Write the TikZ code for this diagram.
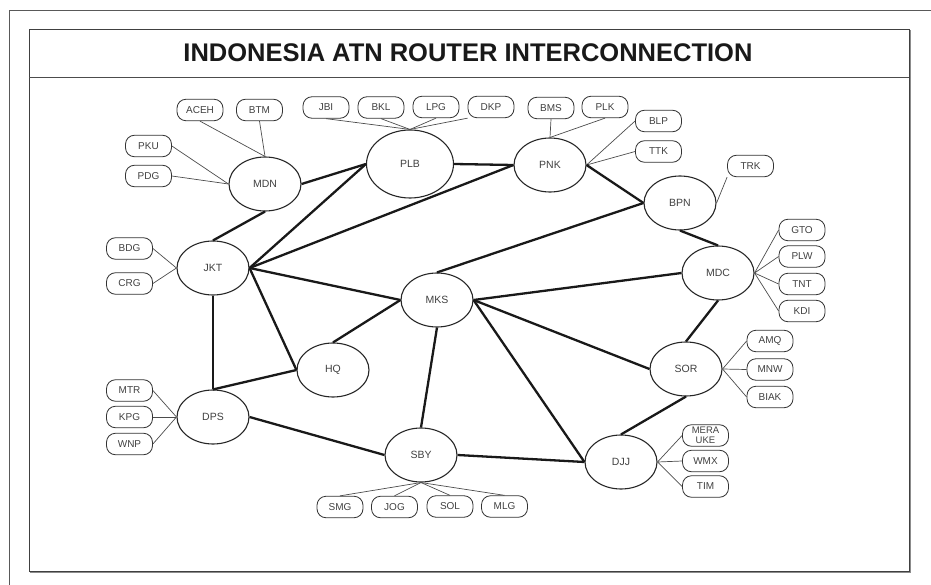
\documentclass[tikz,border=0pt]{standalone}
\usepackage{fontspec}
\setmainfont{Liberation Sans}
\usetikzlibrary{shapes.geometric}
\begin{document}
\begin{tikzpicture}[x=1pt,y=-1pt,
  router/.style={draw=black!85,line width=1.1pt,ellipse,minimum width=72pt,minimum height=54pt,inner sep=0pt,
                 font=\fontsize{10.5}{11}\selectfont,text=black!75},
  bigrouter/.style={router,minimum width=87pt,minimum height=68pt},
  site/.style={draw=black!80,line width=0.8pt,rounded corners=9pt,minimum width=46pt,minimum height=21.5pt,inner sep=0pt,
               font=\fontsize{10}{10}\selectfont,text=black!75,align=center},
  trunk/.style={line width=2.3pt,black!90},
  spur/.style={line width=0.7pt,black!70}]
\useasboundingbox (0,0) rectangle (931,585);

% page frame and title panel
\draw[black!65,line width=1pt] (931,10.5) -- (9.5,10.5) -- (9.5,585);
\draw[black!45,line width=2pt] (909.5,30.5) -- (909.5,571.5) -- (29.5,571.5);
\draw[black!75,line width=1pt] (29,30) rectangle (909,571);
\draw[black!70,line width=1pt] (29,78) -- (909,78);
\node[font=\fontsize{25.5}{26}\selectfont\bfseries,text=black!90] (title) at (468,53) {INDONESIA ATN ROUTER INTERCONNECTION};

% backbone routers
\node[router]    (MDN) at (265,184) {MDN};
\node[router]    (JKT) at (213,268) {JKT};
\node[bigrouter] (PLB) at (410,164) {PLB};
\node[router]    (PNK) at (550,165) {PNK};
\node[router]    (BPN) at (680,203) {BPN};
\node[router]    (MDC) at (718,273) {MDC};
\node[router]    (SOR) at (686,369) {SOR};
\node[router]    (DJJ) at (621,462) {DJJ};
\node[router]    (SBY) at (421,455) {SBY};
\node[router]    (DPS) at (213,417) {DPS};
\node[router]    (HQ)  at (333,370) {HQ};
\node[router]    (MKS) at (437,300) {MKS};

% outstations
\node[site] (ACEH) at (200,110) {ACEH};
\node[site] (BTM)  at (259.5,110) {BTM};
\node[site] (PKU)  at (148.5,146) {PKU};
\node[site] (PDG)  at (148.5,176) {PDG};
\node[site] (JBI)  at (326,107.5) {JBI};
\node[site] (BKL)  at (381,107.5) {BKL};
\node[site] (LPG)  at (436,107) {LPG};
\node[site] (DKP)  at (491,107) {DKP};
\node[site] (BMS)  at (551,108) {BMS};
\node[site] (PLK)  at (605,107) {PLK};
\node[site] (BLP)  at (658.5,121) {BLP};
\node[site] (TTK)  at (658.5,151.5) {TTK};
\node[site] (TRK)  at (750.5,166) {TRK};
\node[site] (BDG)  at (129.5,248.5) {BDG};
\node[site] (CRG)  at (129.5,283.5) {CRG};
\node[site] (GTO)  at (802,230) {GTO};
\node[site] (PLW)  at (802,256.5) {PLW};
\node[site] (TNT)  at (802,284) {TNT};
\node[site] (KDI)  at (802,311) {KDI};
\node[site] (AMQ)  at (770,341) {AMQ};
\node[site] (MNW)  at (770,369.5) {MNW};
\node[site] (BIAK) at (770,397) {BIAK};
\node[site,font=\fontsize{9.5}{9.7}\selectfont] (MRK) at (705.5,435.5) {MERA\\UKE};
\node[site] (WMX)  at (705.5,461) {WMX};
\node[site] (TIM)  at (705.5,486.5) {TIM};
\node[site] (MTR)  at (129.5,390.5) {MTR};
\node[site] (KPG)  at (129.5,417) {KPG};
\node[site] (WNP)  at (129.5,444) {WNP};
\node[site] (SMG)  at (340,507) {SMG};
\node[site] (JOG)  at (394.5,507) {JOG};
\node[site] (SOL)  at (450,506.5) {SOL};
\node[site] (MLG)  at (504.5,506.5) {MLG};

% outstation spurs
\draw[spur] (ACEH.south) -- (MDN.north);
\draw[spur] (BTM.south) -- (MDN.north);
\draw[spur] (PKU.east) -- (MDN.west);
\draw[spur] (PDG.east) -- (MDN.west);
\draw[spur] (JBI.south) -- (PLB.north);
\draw[spur] (BKL.south) -- (PLB.north);
\draw[spur] (LPG.south) -- (PLB.north);
\draw[spur] (DKP.south west) -- (PLB.north);
\draw[spur] (BMS.south) -- (PNK.north);
\draw[spur] (PLK.south) -- (PNK.north);
\draw[spur] (BLP.west) -- (PNK.east);
\draw[spur] (TTK.west) -- (PNK.east);
\draw[spur] (TRK.south west) -- (BPN.east);
\draw[spur] (BDG.east) -- (JKT.west);
\draw[spur] (CRG.east) -- (JKT.west);
\draw[spur] (GTO.west) -- (MDC.east);
\draw[spur] (PLW.west) -- (MDC.east);
\draw[spur] (TNT.west) -- (MDC.east);
\draw[spur] (KDI.west) -- (MDC.east);
\draw[spur] (AMQ.west) -- (SOR.east);
\draw[spur] (MNW.west) -- (SOR.east);
\draw[spur] (BIAK.west) -- (SOR.east);
\draw[spur] (MRK.west) -- (DJJ.east);
\draw[spur] (WMX.west) -- (DJJ.east);
\draw[spur] (TIM.west) -- (DJJ.east);
\draw[spur] (MTR.east) -- (DPS.west);
\draw[spur] (KPG.east) -- (DPS.west);
\draw[spur] (WNP.east) -- (DPS.west);
\draw[spur] (SMG.north) -- (SBY.south);
\draw[spur] (JOG.north) -- (SBY.south);
\draw[spur] (SOL.north) -- (SBY.south);
\draw[spur] (MLG.north) -- (SBY.south);

% backbone trunks
\draw[trunk] (MDN.east) -- (PLB.west);
\draw[trunk] (MDN.south) -- (JKT.north);
\draw[trunk] (JKT.east) -- (PLB.west);
\draw[trunk] (JKT.east) -- (PNK.west);
\draw[trunk] (JKT.east) -- (MKS.west);
\draw[trunk] (JKT.east) -- (HQ.west);
\draw[trunk] (JKT.south) -- (DPS.north);
\draw[trunk] (PLB.east) -- (PNK.west);
\draw[trunk] (PNK.east) -- (BPN.west);
\draw[trunk] (BPN.west) -- (MKS.north);
\draw[trunk] (BPN.south) -- (MDC.north);
\draw[trunk] (MDC.west) -- (MKS.east);
\draw[trunk] (MDC.south) -- (SOR.north);
\draw[trunk] (SOR.west) -- (MKS.east);
\draw[trunk] (SOR.south) -- (DJJ.north);
\draw[trunk] (MKS.east) -- (DJJ.west);
\draw[trunk] (MKS.south) -- (SBY.north);
\draw[trunk] (MKS.west) -- (HQ.north);
\draw[trunk] (HQ.west) -- (DPS.north);
\draw[trunk] (DPS.east) -- (SBY.west);
\draw[trunk] (SBY.east) -- (DJJ.west);
\end{tikzpicture}
\end{document}
